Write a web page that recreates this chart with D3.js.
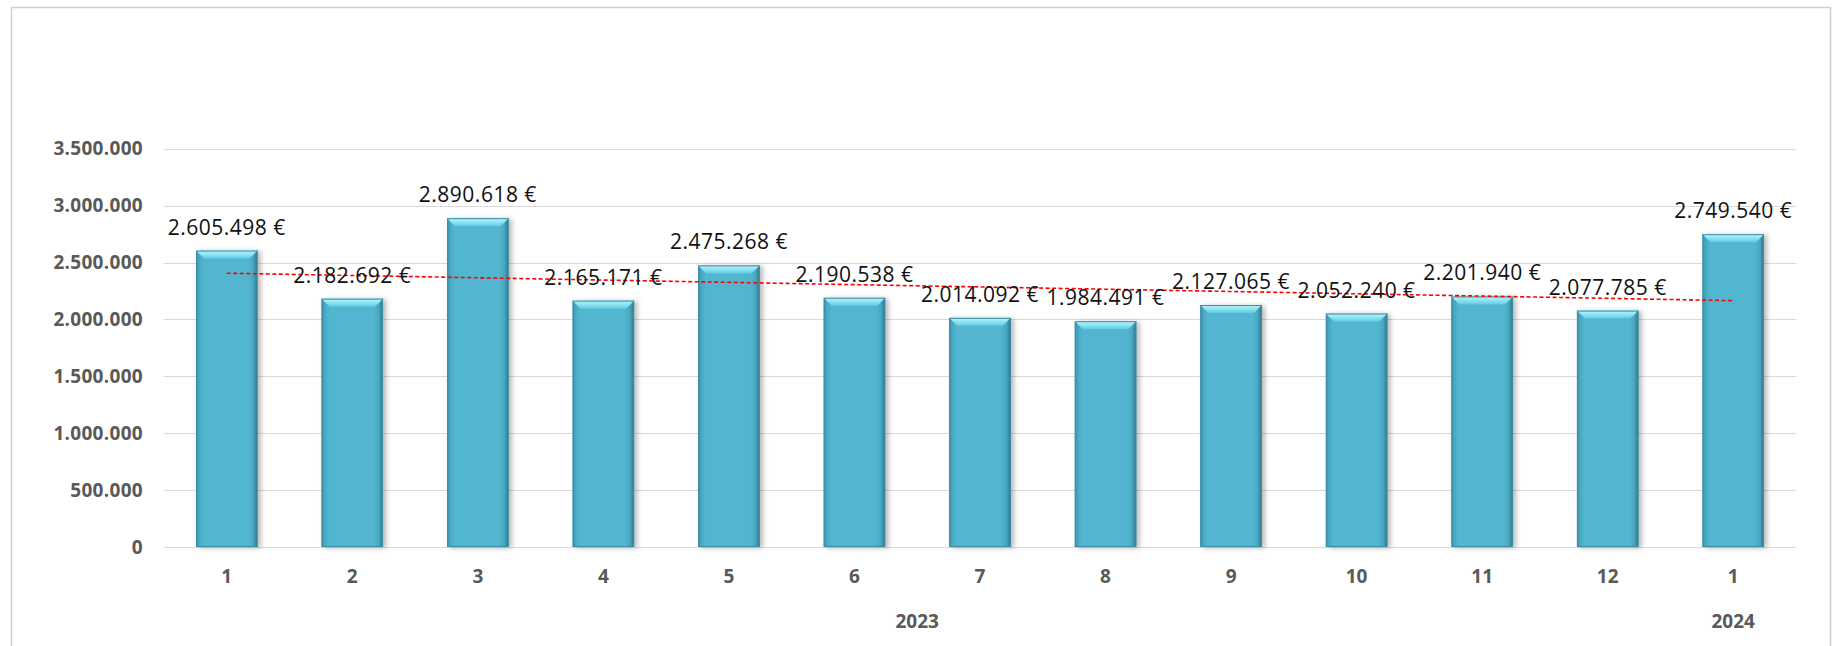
<!DOCTYPE html>
<html>
<head>
<meta charset="utf-8">
<script src="https://cdn.jsdelivr.net/npm/d3@7"></script>
<style>
  html, body { margin: 0; padding: 0; background: #ffffff; }
  svg { display: block; }
</style>
</head>
<body>
<div id="chart"></div>
<script>
// ---- data ----
const months = ["1","2","3","4","5","6","7","8","9","10","11","12","1"];
const years  = ["2023","2023","2023","2023","2023","2023","2023","2023","2023","2023","2023","2023","2024"];
const values = [2605498, 2182692, 2890618, 2165171, 2475268, 2190538, 2014092, 1984491, 2127065, 2052240, 2201940, 2077785, 2749540];
const yTicks = [0, 500000, 1000000, 1500000, 2000000, 2500000, 3000000, 3500000];

// ---- layout ----
const W = 1837, H = 646;
const plot = { left: 164, right: 1796, top: 148.8, bottom: 547 };

const locale = d3.formatLocale({ decimal: ",", thousands: ".", grouping: [3], currency: ["", " €"] });
const fmt = locale.format(",");

const svg = d3.select("#chart").append("svg")
  .attr("width", W).attr("height", H);

const defs = svg.append("defs");
const bodyGrad = defs.append("linearGradient").attr("id", "barBody")
  .attr("x1", "0").attr("x2", "1").attr("y1", "0").attr("y2", "0");
[[0, "#3a90a8"], [0.05, "#49a8c2"], [0.12, "#52b6d0"], [0.85, "#52b6d0"], [0.93, "#4aa7c0"], [1, "#2c7488"]]
  .forEach(([o, c]) => bodyGrad.append("stop").attr("offset", o).attr("stop-color", c));
const topGrad = defs.append("linearGradient").attr("id", "barTop")
  .attr("x1", "0").attr("x2", "0").attr("y1", "0").attr("y2", "1");
[[0, "#b4f6fd"], [0.5, "#8de3f2"], [1, "#66c8de"]]
  .forEach(([o, c]) => topGrad.append("stop").attr("offset", o).attr("stop-color", c));
const shadow = defs.append("filter").attr("id", "shadow")
  .attr("x", "-20%").attr("y", "-5%").attr("width", "150%").attr("height", "115%");
shadow.append("feDropShadow").attr("dx", 3).attr("dy", 1).attr("stdDeviation", 2.5)
  .attr("flood-color", "#000").attr("flood-opacity", 0.28);

// chart frame
svg.append("rect").attr("x", 11.5).attr("y", 7.5).attr("width", 1819).attr("height", 700)
  .attr("fill", "#fff").attr("stroke", "#cfcfcf").attr("stroke-width", 1.5);

const idx = values.map((d, i) => String(i));
const x = d3.scaleBand().domain(idx).range([plot.left, plot.right])
  .paddingInner(0.51).paddingOuter(0.255);
const y = d3.scaleLinear().domain([0, 3500000]).range([plot.bottom, plot.top]);

// gridlines
svg.append("g").selectAll("line").data(yTicks).join("line")
  .attr("x1", plot.left).attr("x2", plot.right)
  .attr("y1", d => Math.round(y(d)) + 0.5).attr("y2", d => Math.round(y(d)) + 0.5)
  .attr("stroke", "#d9d9d9").attr("stroke-width", 1.2);

// y axis labels
const yAxis = d3.axisLeft(y).tickValues(yTicks).tickFormat(d => fmt(d)).tickSize(0).tickPadding(0);
const gy = svg.append("g").attr("transform", `translate(143,0)`).call(yAxis);
gy.select(".domain").remove();
gy.selectAll("text")
  .attr("font-family", "'Open Sans', sans-serif").attr("font-weight", "bold")
  .attr("font-size", 19).attr("fill", "#595959").attr("letter-spacing", 0.3);

// x axis month labels
const xAxis = d3.axisBottom(x).tickFormat(i => months[+i]).tickSize(0).tickPadding(0);
const gx = svg.append("g").attr("transform", `translate(0,${plot.bottom})`).call(xAxis);
gx.select(".domain").remove();
gx.selectAll("text")
  .attr("dy", null).attr("y", 36)
  .attr("font-family", "'Open Sans', sans-serif").attr("font-weight", "bold")
  .attr("font-size", 19).attr("fill", "#595959");

// year group labels
const yearGroups = d3.groups(idx, i => years[+i]);
svg.append("g").selectAll("text").data(yearGroups).join("text")
  .attr("x", ([, ids]) => (x(ids[0]) + x(ids[ids.length - 1]) + x.bandwidth()) / 2)
  .attr("y", 628)
  .attr("text-anchor", "middle")
  .attr("font-family", "'Open Sans', sans-serif").attr("font-weight", "bold")
  .attr("font-size", 19).attr("fill", "#595959")
  .text(([yr]) => yr);

// bars
const bev = 8;
const bars = svg.append("g").selectAll("g").data(values).join("g")
  .attr("filter", "url(#shadow)");
bars.append("rect")
  .attr("x", (d, i) => x(String(i))).attr("y", d => y(d))
  .attr("width", x.bandwidth()).attr("height", d => y(0) - y(d))
  .attr("fill", "url(#barBody)");
bars.append("path")
  .attr("d", (d, i) => {
    const x0 = x(String(i)), x1 = x0 + x.bandwidth(), t = y(d);
    return `M${x0},${t}L${x1},${t}L${x1 - bev},${t + bev}L${x0 + bev},${t + bev}Z`;
  })
  .attr("fill", "url(#barTop)");
bars.append("rect")
  .attr("x", (d, i) => x(String(i)) + 0.5).attr("y", d => y(d) + 0.5)
  .attr("width", x.bandwidth() - 1).attr("height", d => y(0) - y(d) - 1)
  .attr("fill", "none").attr("stroke", "#3b8ea5").attr("stroke-width", 1);

// linear trendline (least squares over category index)
const n = values.length;
const xs = values.map((d, i) => i + 1);
const mx = d3.mean(xs), my = d3.mean(values);
const slope = d3.sum(values, (d, i) => (xs[i] - mx) * (d - my)) / d3.sum(xs, v => (v - mx) ** 2);
const icpt = my - slope * mx;
const trend = [1, n].map(k => [x(String(k - 1)) + x.bandwidth() / 2, y(icpt + slope * k)]);
svg.append("path")
  .attr("d", d3.line()(trend))
  .attr("stroke", "#ff0000").attr("stroke-width", 1.6)
  .attr("stroke-dasharray", "4,2.5").attr("fill", "none");

// data labels
svg.append("g").selectAll("text").data(values).join("text")
  .attr("x", (d, i) => x(String(i)) + x.bandwidth() / 2)
  .attr("y", d => y(d) - 16)
  .attr("text-anchor", "middle")
  .attr("font-family", "'Open Sans', sans-serif")
  .attr("font-size", 21).attr("fill", "#111").attr("letter-spacing", 0.5)
  .text(d => fmt(d) + " €");
</script>
</body>
</html>
